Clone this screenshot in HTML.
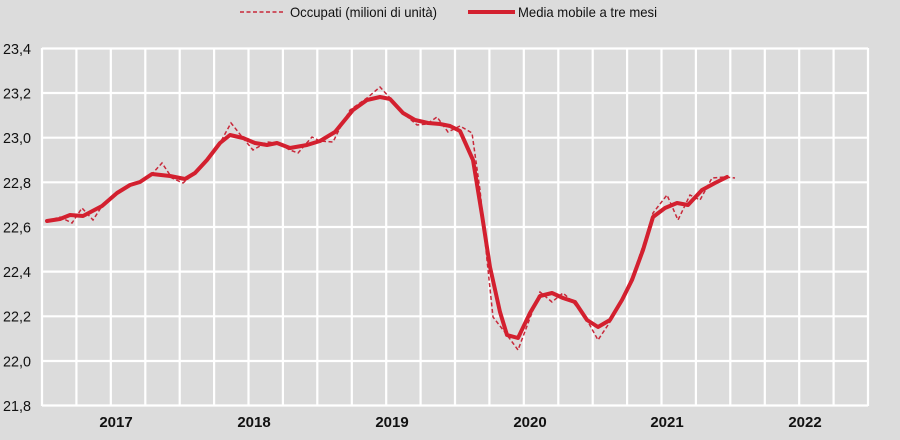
<!DOCTYPE html>
<html><head><meta charset="utf-8"><style>
html,body{margin:0;padding:0;background:#dcdcdc;}
svg{display:block;}
text{font-family:"Liberation Sans",Arial,sans-serif;fill:#111;}
</style></head><body>
<svg width="900" height="440" viewBox="0 0 900 440" xmlns="http://www.w3.org/2000/svg">
<rect width="900" height="440" fill="#dcdcdc"/>
<g stroke="#fff" stroke-width="2.2">
<line x1="42" y1="48.5" x2="868" y2="48.5"/>
<line x1="42" y1="93" x2="868" y2="93"/>
<line x1="42" y1="137.7" x2="868" y2="137.7"/>
<line x1="42" y1="182.3" x2="868" y2="182.3"/>
<line x1="42" y1="227" x2="868" y2="227"/>
<line x1="42" y1="271.6" x2="868" y2="271.6"/>
<line x1="42" y1="316.3" x2="868" y2="316.3"/>
<line x1="42" y1="361" x2="868" y2="361"/>
<line x1="42" y1="405.5" x2="868" y2="405.5"/>
<line x1="42" y1="48" x2="42" y2="406"/><line x1="76.4" y1="48" x2="76.4" y2="406"/><line x1="110.8" y1="48" x2="110.8" y2="406"/><line x1="145.3" y1="48" x2="145.3" y2="406"/><line x1="179.7" y1="48" x2="179.7" y2="406"/><line x1="214.1" y1="48" x2="214.1" y2="406"/><line x1="248.5" y1="48" x2="248.5" y2="406"/><line x1="282.9" y1="48" x2="282.9" y2="406"/><line x1="317.3" y1="48" x2="317.3" y2="406"/><line x1="351.8" y1="48" x2="351.8" y2="406"/><line x1="386.2" y1="48" x2="386.2" y2="406"/><line x1="420.6" y1="48" x2="420.6" y2="406"/><line x1="455" y1="48" x2="455" y2="406"/><line x1="489.4" y1="48" x2="489.4" y2="406"/><line x1="523.8" y1="48" x2="523.8" y2="406"/><line x1="558.3" y1="48" x2="558.3" y2="406"/><line x1="592.7" y1="48" x2="592.7" y2="406"/><line x1="627.1" y1="48" x2="627.1" y2="406"/><line x1="661.5" y1="48" x2="661.5" y2="406"/><line x1="695.9" y1="48" x2="695.9" y2="406"/><line x1="730.3" y1="48" x2="730.3" y2="406"/><line x1="764.8" y1="48" x2="764.8" y2="406"/><line x1="799.2" y1="48" x2="799.2" y2="406"/><line x1="833.6" y1="48" x2="833.6" y2="406"/><line x1="868" y1="48" x2="868" y2="406"/>
</g>
<g font-size="15">
<text x="3" y="54" textLength="28" lengthAdjust="spacingAndGlyphs">23,4</text>
<text x="3" y="98.5" textLength="28" lengthAdjust="spacingAndGlyphs">23,2</text>
<text x="3" y="143" textLength="28" lengthAdjust="spacingAndGlyphs">23,0</text>
<text x="3" y="188" textLength="28" lengthAdjust="spacingAndGlyphs">22,8</text>
<text x="3" y="232.5" textLength="28" lengthAdjust="spacingAndGlyphs">22,6</text>
<text x="3" y="277" textLength="28" lengthAdjust="spacingAndGlyphs">22,4</text>
<text x="3" y="321.5" textLength="28" lengthAdjust="spacingAndGlyphs">22,2</text>
<text x="3" y="366.5" textLength="28" lengthAdjust="spacingAndGlyphs">22,0</text>
<text x="3" y="411" textLength="28" lengthAdjust="spacingAndGlyphs">21,8</text>
</g>
<g font-size="15" font-weight="bold" text-anchor="middle">
<text x="116" y="427">2017</text><text x="254" y="427">2018</text><text x="392" y="427">2019</text><text x="530" y="427">2020</text><text x="667" y="427">2021</text><text x="805" y="427">2022</text>
</g>
<line x1="240" y1="12" x2="285" y2="12" stroke="#c8283a" stroke-width="1.5" stroke-dasharray="4,2.5"/>
<text x="290" y="17" font-size="14" textLength="147" lengthAdjust="spacingAndGlyphs">Occupati (milioni di unità)</text>
<line x1="468" y1="12" x2="515" y2="12" stroke="#d3202f" stroke-width="4"/>
<text x="518" y="17" font-size="14" textLength="139" lengthAdjust="spacingAndGlyphs">Media mobile a tre mesi</text>
<polyline fill="none" stroke="#c8283a" stroke-width="1.5" stroke-dasharray="4,2.5" points="47,221 60,217 72,223 82,208 93,220 102,206 117,193 130,185 140,182 152,174 162,163 172,178 183,183 195,173 207,160 220,143 231,123 243,138 253,150 267,142 277,143 290,150 298,153 312,137 320,141 333,142 340,128 350,110 367,98 380,87 390,98 403,113 417,125 427,124 437,117 448,132 460,126 472,133 480,190 487,260 493,317 507,335 518,350 530,318 540,292 552,302 563,293 573,302 587,320 598,340 610,322 622,300 634,272 645,240 653,213 667,195 678,220 690,195 700,200 712,178 725,177 735,178"/>
<polyline fill="none" stroke="#d3202f" stroke-width="4" stroke-linejoin="round" stroke-linecap="round" points="47,221 60,219 70,215 83,216 102,206 117,193 130,185 140,182 152,174 170,176 185,179 195,173 207,160 220,143 230,135 243,138 255,143 267,145 277,143 290,148 307,145 320,141 335,132 353,110 367,100 380,97 390,99 403,113 415,120 428,123 440,124 450,126 460,131 473,160 482,215 490,267 500,312 507,335 518,338 530,313 540,296 552,293 563,298 575,302 587,320 598,327 610,320 622,300 632,280 643,250 653,217 665,208 677,203 688,205 702,190 715,183 727,177"/>
</svg>
</body></html>
